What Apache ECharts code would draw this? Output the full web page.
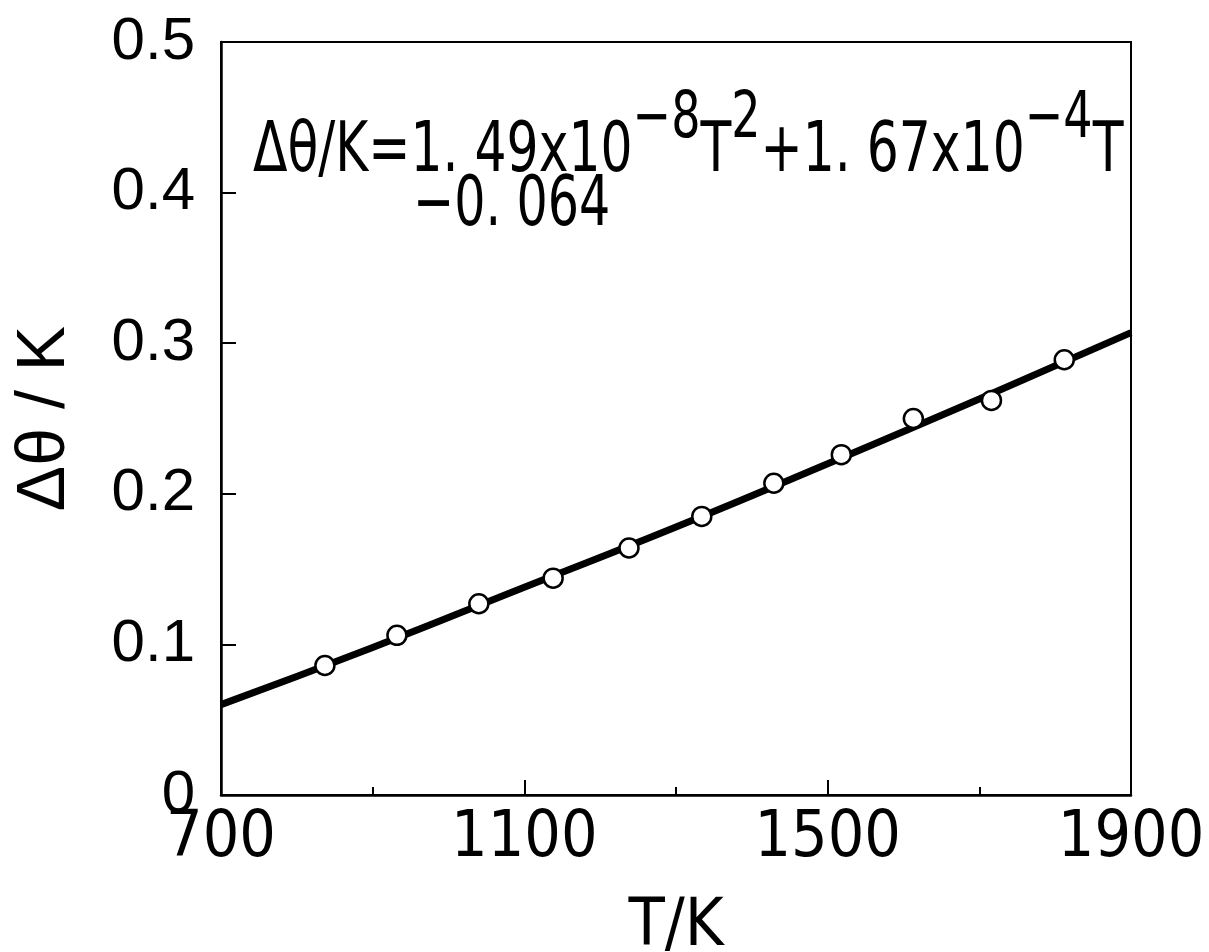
<!DOCTYPE html>
<html>
<head>
<meta charset="utf-8">
<script src="https://cdn.jsdelivr.net/npm/echarts@6/dist/echarts.min.js"></script>
<style>
html,body{margin:0;padding:0;background:#fff;}
#chart{width:1209px;height:952px;}
</style>
</head>
<body>
<div id="chart"></div>
<script>
// Measured points (T/K, Δθ/K)
const pointT = [837, 932, 1040, 1138, 1238, 1334, 1429, 1518, 1613, 1716, 1812];
const pointDelta = [0.086, 0.106, 0.127, 0.144, 0.164, 0.185, 0.207, 0.226, 0.250, 0.262, 0.289];
// Fitted curve
const curveT = [700, 900, 1100, 1300, 1500, 1700, 1900];
const curveDelta = [0.060, 0.098, 0.138, 0.178, 0.220, 0.263, 0.307];
const xTickLabels = ['700', '1100', '1500', '1900'];
const yTickLabels = ['0', '0.1', '0.2', '0.3', '0.4', '0.5'];
const xName = 'T/K';
const yName = 'Δθ / K';
const eqLine1 = '{n|Δθ/K=1. 49x10}{s|−8}{n|T}{s|2}{n|+1. 67x10}{s|−4}{n|T}';
const eqLine2 = '−0. 064';

const narrow = "'Liberation Sans Narrow', 'DejaVu Sans Condensed', sans-serif";
const sans = "'Liberation Sans', Arial, sans-serif";

const chart = echarts.init(document.getElementById('chart'), null, {renderer: 'canvas'});
chart.setOption({
  backgroundColor: '#fff',
  animation: false,
  grid: {left: 221, right: 78, top: 42, bottom: 157, containLabel: false, outerBoundsMode: 'none',
         show: true, borderColor: '#000', borderWidth: 2, backgroundColor: 'transparent'},
  xAxis: {
    type: 'value', min: 700, max: 1900, interval: 400,
    name: xName, nameLocation: 'middle', nameGap: 100,
    nameTextStyle: {fontFamily: narrow, fontSize: 66, color: '#000'},
    axisLine: {show: true, onZero: false, lineStyle: {color: '#000', width: 2.5}},
    axisTick: {show: true, inside: true, length: 15, lineStyle: {color: '#000', width: 2}},
    minorTick: {show: true, splitNumber: 2, length: 8, lineStyle: {color: '#000', width: 2}},
    splitLine: {show: false},
    axisLabel: {
      margin: 12, fontFamily: narrow, fontSize: 64, color: '#000',
      formatter: v => xTickLabels.includes(String(v)) ? String(v) : ''
    }
  },
  yAxis: {
    type: 'value', min: 0, max: 0.5, interval: 0.1,
    name: yName, nameLocation: 'middle', nameGap: 142, nameRotate: 90,
    nameTextStyle: {fontFamily: sans, fontSize: 68, color: '#000'},
    axisLine: {show: true, onZero: false, lineStyle: {color: '#000', width: 2.5}},
    axisTick: {show: true, inside: true, length: 15, lineStyle: {color: '#000', width: 2}},
    splitLine: {show: false},
    axisLabel: {
      margin: 26, fontFamily: sans, fontSize: 60, color: '#000',
      formatter: v => yTickLabels[Math.round(v * 10)]
    }
  },
  graphic: [
    {
      type: 'text', x: 253, y: 88, scaleX: 0.8, z: 10,
      style: {
        text: eqLine1, fill: '#000',
        rich: {
          n: {fontFamily: narrow, fontSize: 70, lineHeight: 100, verticalAlign: 'bottom', fill: '#000'},
          s: {fontFamily: narrow, fontSize: 64, lineHeight: 58, verticalAlign: 'top', fill: '#000'}
        }
      }
    },
    {
      type: 'text', x: 413, y: 172, scaleX: 0.78, z: 10,
      style: {text: eqLine2, fill: '#000', font: "70px " + narrow}
    }
  ],
  series: [
    {
      type: 'line', data: curveT.map((t, i) => [t, curveDelta[i]]),
      smooth: true, showSymbol: false, z: 2,
      lineStyle: {color: '#000', width: 7}
    },
    {
      type: 'scatter', data: pointT.map((t, i) => [t, pointDelta[i]]),
      symbol: 'circle', symbolSize: 19, z: 3,
      itemStyle: {color: '#fff', borderColor: '#000', borderWidth: 2.5, opacity: 1}
    }
  ]
});
</script>
</body>
</html>
